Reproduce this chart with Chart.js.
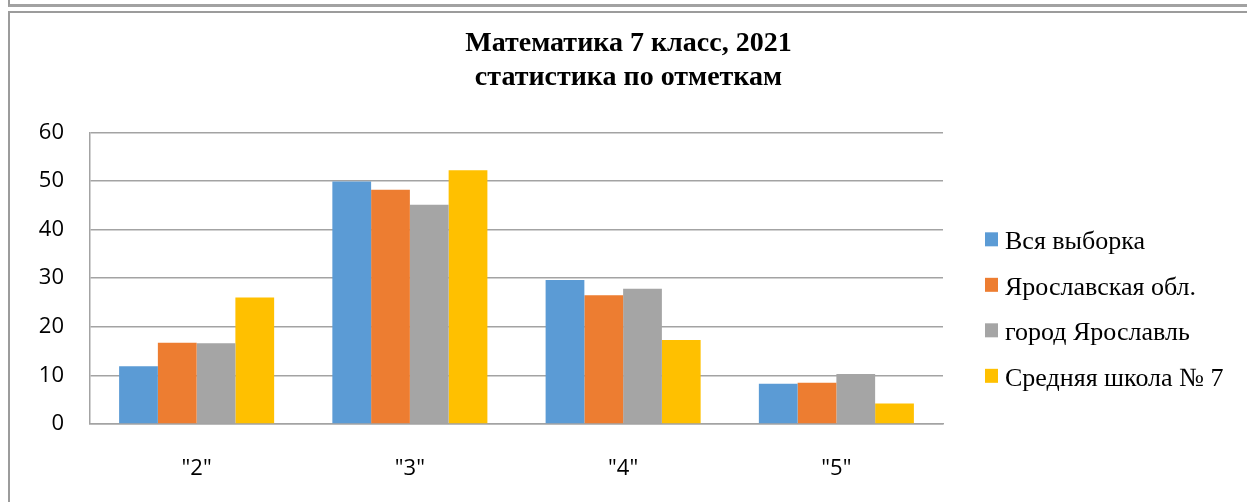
<!DOCTYPE html>
<html lang="ru">
<head>
<meta charset="utf-8">
<title>Математика 7 класс, 2021</title>
<script src="https://cdn.jsdelivr.net/npm/chart.js@4/dist/chart.umd.min.js"></script>
<style>
    html, body { margin: 0; padding: 0; background: #fff; overflow: hidden; }
    #wrap { position: relative; width: 1247px; height: 502px; }
    canvas { position: absolute; left: 0; top: 0; }
    .frame-top { position: absolute; left: 8px; top: -10px; right: -10px; height: 14px;
        border-left: 2px solid #9c9c9c; border-bottom: 3px solid #a2a2a2; }
    .frame-main { position: absolute; left: 8px; top: 11px; right: -10px; bottom: -10px;
        border-left: 2px solid #9c9c9c; border-top: 2px solid #9c9c9c; }
</style>
</head>
<body>
<div id="wrap">
    <canvas id="chart" width="1247" height="502"></canvas>
    <div class="frame-top"></div>
    <div class="frame-main"></div>
</div>
<script>
// categories (отметки)
const categories = ['"2"', '"3"', '"4"', '"5"'];
const seriesNames = ['Вся выборка', 'Ярославская обл.', 'город Ярославль', 'Средняя школа № 7'];

// percent of students per mark
const allSample = [11.9, 49.9, 29.6, 8.3];
const regionValues = [16.7, 48.2, 26.5, 8.5];
const cityValues = [16.6, 45.1, 27.8, 10.3];
const schoolValues = [26.0, 52.2, 17.3, 4.2];

const seriesColors = ['#5b9bd5', '#ed7d31', '#a5a5a5', '#ffc000'];
const yTicks = [0, 10, 20, 30, 40, 50, 60];

const gridColor = '#a3a3a3';
const tickFont = {family: "'Open Sans'", size: 22};

// legend on the right, reserves its own space in the layout
const LEGEND_WIDTH = 304;
const sideLegend = {
    id: 'sideLegend',
    beforeInit(chart) {
        const box = {
            position: 'right',
            weight: 1000,
            fullSize: false,
            options: {},
            top: 0, left: 0, right: 0, bottom: 0, width: 0, height: 0,
            isHorizontal() { return false; },
            update(maxWidth, maxHeight) {
                this.width = LEGEND_WIDTH;
                this.height = maxHeight;
            },
            draw() {
                const ctx = chart.ctx;
                ctx.save();
                ctx.font = "26px 'Liberation Serif'";
                ctx.textBaseline = 'alphabetic';
                ctx.textAlign = 'left';
                chart.data.datasets.forEach((ds, i) => {
                    const y = this.top + 107 + i * 45.5;
                    ctx.fillStyle = ds.backgroundColor;
                    ctx.fillRect(this.left + 42, y - 7, 13, 14);
                    ctx.fillStyle = '#000';
                    ctx.fillText(ds.label, this.left + 62, y + 10);
                });
                ctx.restore();
            }
        };
        Chart.layouts.addBox(chart, box);
    }
};

const seriesData = [allSample, regionValues, cityValues, schoolValues];

new Chart(document.getElementById('chart'), {
    type: 'bar',
    data: {
        labels: categories,
        datasets: seriesNames.map((name, i) => ({
            label: name,
            data: seriesData[i],
            backgroundColor: seriesColors[i],
            categoryPercentage: 0.727,
            barPercentage: 1.0
        }))
    },
    options: {
        responsive: false,
        animation: false,
        layout: {padding: {left: 10, right: 0, top: 0, bottom: 0}},
        scales: {
            x: {
                grid: {display: false},
                border: {display: true, color: gridColor, width: 1.5},
                ticks: {font: tickFont, color: '#000', padding: 24},
                afterFit: s => { s.height = 78; }
            },
            y: {
                min: 0,
                max: 60,
                afterBuildTicks: s => { s.ticks = yTicks.map(v => ({value: v})); },
                grid: {color: gridColor, lineWidth: 1.5, drawTicks: false},
                border: {display: true, color: gridColor, width: 1.5},
                ticks: {font: tickFont, color: '#000', padding: 26},
                afterFit: s => { s.width = 80; }
            }
        },
        plugins: {
            legend: {display: false},
            tooltip: {enabled: false},
            title: {
                display: true,
                text: ['Математика 7 класс, 2021', 'статистика по отметкам'],
                color: '#000',
                font: {family: "'Liberation Serif'", size: 28, weight: 'bold', lineHeight: 1.22},
                padding: {top: 27, bottom: 37}
            }
        }
    },
    plugins: [sideLegend]
});
</script>
</body>
</html>
